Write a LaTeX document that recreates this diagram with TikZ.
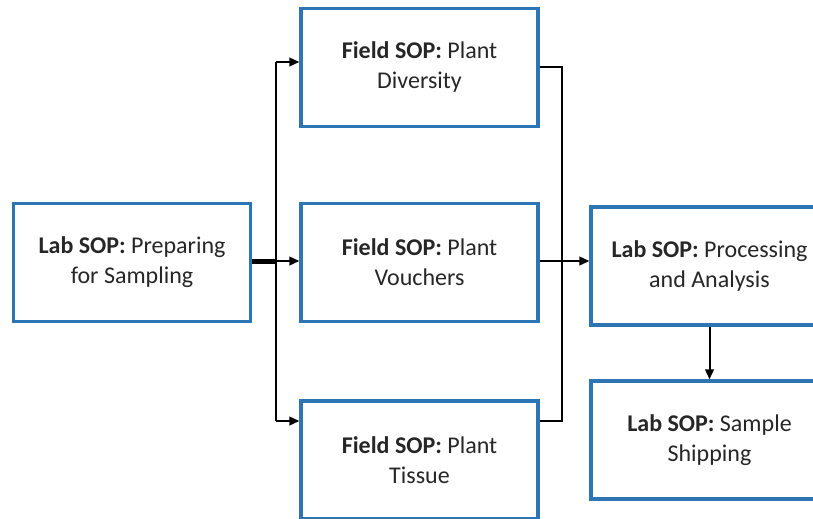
\documentclass[tikz,border=0pt]{standalone}
\usepackage{fontspec}
\setmainfont{Carlito}
\usetikzlibrary{arrows.meta,calc}
\definecolor{sopblue}{HTML}{2E75B6}
\definecolor{soptext}{HTML}{262626}
\begin{document}
\begin{tikzpicture}[x=0.75pt,y=-0.75pt,
  sopbox/.style={draw=sopblue, line width=2.5pt, minimum width=177.75pt,
    minimum height=88.5pt, align=center, inner sep=0pt, text=soptext,
    font=\fontsize{18}{22.5}\selectfont},
  link/.style={line width=1.5pt, draw=black, line join=miter},
  tip/.style={-{Triangle[length=7.5pt,width=6.5pt]}}]
\useasboundingbox (0,0) rectangle (813,518);
\clip (0,0) rectangle (813,518);

% process boxes
\node[sopbox] (prep) at (132,262.5) {\textbf{Lab SOP:} Preparing\\for Sampling};
\node[sopbox] (div)  at (419.5,67.5) {\textbf{Field SOP:} Plant\\Diversity};
\node[sopbox] (vou)  at (419.5,262.5) {\textbf{Field SOP:} Plant\\Vouchers};
\node[sopbox] (tis)  at (419.5,460) {\textbf{Field SOP:} Plant\\Tissue};
\node[sopbox] (proc) at (709.5,266) {\textbf{Lab SOP:} Processing\\and Analysis};
\node[sopbox] (ship) at (709.5,440) {\textbf{Lab SOP:} Sample\\Shipping};

% fan-out from the preparation step
\coordinate (lsplit) at (276,261);
\coordinate (ltop) at (276,62);
\coordinate (lbot) at (276,421);
\draw[line width=3.75pt] (prep.east |- lsplit) -- (lsplit);
\draw[link] (ltop) -- (lbot);
\draw[link,tip] (ltop) -- (ltop -| div.west);
\draw[link,tip] (lsplit) -- (lsplit -| vou.west);
\draw[link,tip] (lbot) -- (lbot -| tis.west);

% merge into processing
\coordinate (rtop) at (562,67);
\coordinate (rmid) at (562,261);
\coordinate (rbot) at (562,421);
\draw[link] (rtop -| div.east) -- (rtop) -- (rbot) -- (rbot -| tis.east);
\draw[link,tip] (rmid -| vou.east) -- (rmid -| proc.west);

% processing to shipping
\draw[link,tip] (proc.south) -- (ship.north);
\end{tikzpicture}
\end{document}
